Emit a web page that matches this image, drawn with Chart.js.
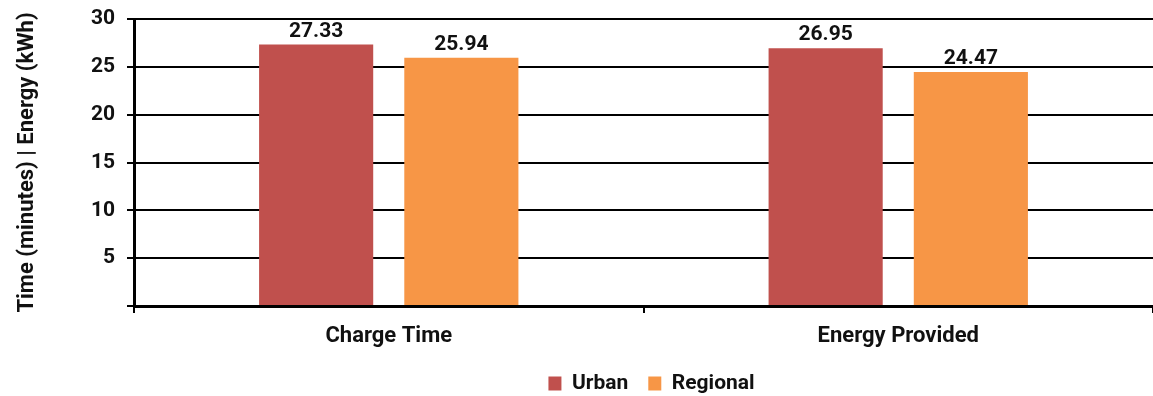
<!DOCTYPE html>
<html>
<head>
<meta charset="utf-8">
<script src="https://cdn.jsdelivr.net/npm/chart.js@4/dist/chart.umd.min.js"></script>
<style>
  html, body { margin: 0; padding: 0; background: #fff; }
  #wrap { width: 1153px; height: 396px; }
</style>
</head>
<body>
<div id="wrap"><canvas id="c" width="1153" height="396"></canvas></div>
<script>
// Average session figures per site type
const categories = ['Charge Time', 'Energy Provided'];
const urbanValues = [27.33, 26.95];
const regionalValues = [25.94, 24.47];
const seriesNames = ['Urban', 'Regional'];
const yTicks = [0, 5, 10, 15, 20, 25, 30];

const FONT = 'Roboto, "Liberation Sans", Arial, sans-serif';
const TEXT = '#111';

// Writes each bar's value just above it
const valueLabels = {
  id: 'valueLabels',
  afterDatasetsDraw(chart) {
    const ctx = chart.ctx;
    ctx.save();
    ctx.font = 'bold 21px ' + FONT;
    ctx.fillStyle = TEXT;
    ctx.textAlign = 'center';
    ctx.textBaseline = 'alphabetic';
    chart.data.datasets.forEach((ds, di) => {
      const meta = chart.getDatasetMeta(di);
      meta.data.forEach((bar, i) => {
        ctx.fillText(ds.data[i].toFixed(2), bar.x, bar.y - 8);
      });
    });
    ctx.restore();
  }
};

// Keeps the legend compact at the foot of the canvas and nudges it right
const legendFit = {
  id: 'legendFit',
  beforeLayout(chart) {
    const lg = chart.legend;
    if (lg && !lg._compact) {
      const fit = lg.fit.bind(lg);
      lg.fit = function () { fit(); this.height = 43; };
      lg._compact = true;
    }
  },
  afterLayout(chart) {
    const lg = chart.legend;
    if (lg) { lg.left += 8; lg.right += 8; }
  }
};

new Chart(document.getElementById('c'), {
  type: 'bar',
  data: {
    labels: categories,
    datasets: [
      { label: seriesNames[0], data: urbanValues, backgroundColor: '#C0504D' },
      { label: seriesNames[1], data: regionalValues, backgroundColor: '#F79646' }
    ]
  },
  options: {
    responsive: false,
    animation: false,
    devicePixelRatio: 1,
    categoryPercentage: 0.57,
    barPercentage: 0.786,
    layout: { padding: { top: 19, right: 0, left: 0, bottom: 0 } },
    plugins: {
      tooltip: { enabled: false },
      legend: {
        position: 'bottom',
        fullSize: false,
        labels: {
          color: TEXT,
          font: { family: FONT, size: 21, weight: 'bold' },
          boxWidth: 13,
          boxHeight: 14,
          padding: 20
        }
      }
    },
    scales: {
      x: {
        grid: {
          offset: true,
          drawOnChartArea: false,
          drawTicks: true,
          tickLength: 7,
          color: '#000',
          lineWidth: 2
        },
        border: { display: true, color: '#000', width: 3 },
        ticks: {
          color: TEXT,
          padding: 10,
          font: { family: FONT, size: 22, weight: 'bold' }
        },
        afterFit(scale) { scale.height = 47; }
      },
      y: {
        min: 0,
        max: 30,
        afterBuildTicks(scale) { scale.ticks = yTicks.map(v => ({ value: v })); },
        grid: {
          color: '#000',
          lineWidth: 2,
          drawTicks: true,
          tickLength: 7
        },
        border: { display: true, color: '#000', width: 3 },
        ticks: {
          color: TEXT,
          padding: 12,
          font: { family: FONT, size: 21, weight: 'bold' },
          callback: (v) => (v === 0 ? '' : v)
        },
        title: {
          display: true,
          text: 'Time (minutes) | Energy (kWh)',
          color: TEXT,
          font: { family: FONT, size: 22, weight: 'bold' },
          padding: { top: 14, bottom: 0 }
        },
        afterFit(scale) {
          scale.width = 134;
          scale.paddingTop = 0;
          scale.paddingBottom = 0;
        }
      }
    }
  },
  plugins: [valueLabels, legendFit]
});
</script>
</body>
</html>
